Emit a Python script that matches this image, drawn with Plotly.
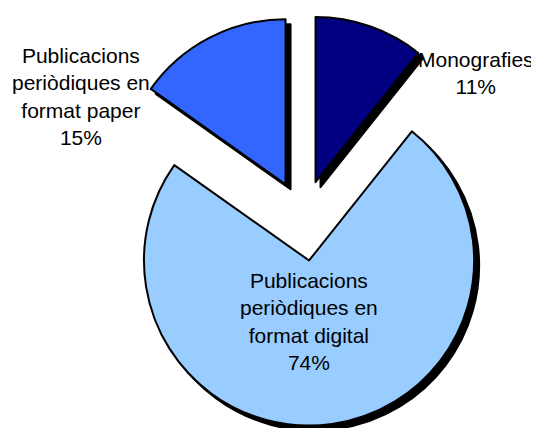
"""
plot.py

Distribucio de les adquisicions per tipus de document (pie chart).
"""

import textwrap

import plotly.graph_objects as go


# ==========================================================
# DATA
# ==========================================================

labels = [
    "Monografies",
    "Publicacions periòdiques en format digital",
    "Publicacions periòdiques en format paper"
]

# shares (labels show them rounded)
shares = [10.7, 74.1, 15.2]


# ==========================================================
# STYLE
# ==========================================================

slice_colors = ["#000080", "#99CCFF", "#3366FF"]

slice_pull = [0.23, 0.26, 0.23]

FONT = "Arial, Liberation Sans, sans-serif"

W, H = 539, 428

# the page body adds an 8px margin around the figure
PAGE = 8

# pie box in page pixels (left, top, size)
BOX_X, BOX_Y, BOX_S = 95, 10, 416

SHADOW = 5


def px_domain(left, top, size):
    """
    Convert a page pixel box to a paper domain.
    """

    left -= PAGE
    top -= PAGE

    return dict(
        x=[left / W, (left + size) / W],
        y=[max(0, 1 - (top + size) / H), min(1, 1 - top / H)]
    )


# ==========================================================
# FIGURE
# ==========================================================

fig = go.Figure()

# shadow underneath
fig.add_trace(

    go.Pie(

        labels=labels,

        values=shares,

        sort=False,

        direction="clockwise",

        rotation=0,

        pull=slice_pull,

        textinfo="none",

        hoverinfo="skip",

        showlegend=False,

        marker=dict(
            colors=["#000000"] * len(shares),
            line=dict(color="#000000", width=2)
        ),

        domain=px_domain(BOX_X + SHADOW, BOX_Y + SHADOW, BOX_S)

    )

)

# main slices
fig.add_trace(

    go.Pie(

        labels=labels,

        values=shares,

        sort=False,

        direction="clockwise",

        rotation=0,

        pull=slice_pull,

        textinfo="none",

        showlegend=False,

        marker=dict(
            colors=slice_colors,
            line=dict(color="#000000", width=2)
        ),

        domain=px_domain(BOX_X, BOX_Y, BOX_S)

    )

)

# ------------------------------------------------------
# Slice labels (page pixel centres)
# ------------------------------------------------------

label_pos = [(476, 73), (309, 321), (81, 97)]

for name, share, (lx, ly) in zip(labels, shares, label_pos):

    text = "<br>".join(textwrap.wrap(name, 15) + [f"{round(share)}%"])

    fig.add_annotation(
        x=(lx - PAGE) / W,
        y=1 - (ly - PAGE) / H,
        xref="paper",
        yref="paper",
        xanchor="center",
        yanchor="middle",
        text=text,
        showarrow=False,
        align="center",
        font=dict(family=FONT, size=21, color="#000000")
    )

fig.update_layout(

    width=W,

    height=H,

    margin=dict(l=0, r=0, t=0, b=0),

    paper_bgcolor="white",

    plot_bgcolor="white",

    font=dict(family=FONT, size=21)

)

fig.write_html("out.html")
